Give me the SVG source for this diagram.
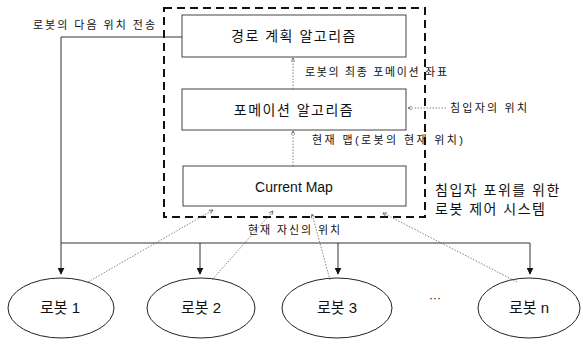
<svg xmlns="http://www.w3.org/2000/svg" width="583" height="345" viewBox="0 0 583 345">
<defs>
<style>
text{font-family:"Liberation Sans","Noto Sans CJK KR",sans-serif;fill:#111}
.box{fill:#fff;stroke:#444;stroke-width:1}
.title{font-size:14px;text-anchor:middle}
.lbl{font-size:11px}
.robot{fill:#fff;stroke:#222;stroke-width:1}
.rt{font-size:15px;text-anchor:middle}
.solid{fill:none;stroke:#333;stroke-width:1}
.dot{fill:none;stroke:#666;stroke-width:0.8;stroke-dasharray:1.5 1.5}
</style>
<marker id="fill" viewBox="0 0 10 10" refX="9" refY="5" markerWidth="7" markerHeight="7" orient="auto"><path d="M0,0 L10,5 L0,10 z" fill="#111"/></marker>
<marker id="open" viewBox="0 0 10 10" refX="9" refY="5" markerWidth="6" markerHeight="6" orient="auto"><path d="M1,1 L9,5 L1,9" fill="none" stroke="#333" stroke-width="1.3"/></marker>
</defs>
<rect x="0" y="0" width="583" height="345" fill="#fff"/>

<g id="system">
<rect x="164" y="8" width="261" height="209" fill="none" stroke="#111" stroke-width="2" stroke-dasharray="8 5"/>
<text x="435" y="195" style="font-size:14px;letter-spacing:1.5px">침입자 포위를 위한</text>
<text x="435" y="214" style="font-size:14px;letter-spacing:1.5px">로봇 제어 시스템</text>
</g>

<g id="path-planning">
<rect class="box" x="182" y="15" width="224" height="42"/>
<text class="title" x="294" y="41" style="letter-spacing:1.5px">경로 계획 알고리즘</text>
</g>
<g id="formation">
<rect class="box" x="182" y="89" width="224" height="41"/>
<text class="title" x="294" y="115" style="letter-spacing:1.5px">포메이션 알고리즘</text>
</g>
<g id="current-map">
<rect class="box" x="183" y="166" width="223" height="40"/>
<text class="title" x="294" y="192">Current Map</text>
</g>

<g id="robot1"><ellipse class="robot" cx="61" cy="308" rx="53" ry="30"/><text class="rt" x="60" y="313">로봇 1</text></g>
<g id="robot2"><ellipse class="robot" cx="201" cy="308" rx="54" ry="30"/><text class="rt" x="201" y="313">로봇 2</text></g>
<g id="robot3"><ellipse class="robot" cx="337" cy="308" rx="55" ry="30"/><text class="rt" x="337" y="313">로봇 3</text></g>
<g id="robotn"><ellipse class="robot" cx="529" cy="308" rx="51" ry="30"/><text class="rt" x="529" y="313">로봇 n</text></g>
<text x="435" y="302" style="font-size:12px;text-anchor:middle">···</text>

<g id="connectors">
<!-- next position broadcast -->
<path class="solid" d="M182,37 H61 V274" marker-end="url(#fill)"/>
<path class="solid" d="M61,243 H530"/>
<path class="solid" d="M200,243 V274" marker-end="url(#fill)"/>
<path class="solid" d="M338,243 V274" marker-end="url(#fill)"/>
<path class="solid" d="M530,243 V274" marker-end="url(#fill)"/>
<text class="lbl" x="33" y="29" textLength="122">로봇의 다음 위치 전송</text>

<!-- between boxes -->
<path class="dot" d="M293,89 V58" marker-end="url(#open)"/>
<text class="lbl" x="305" y="76" textLength="142">로봇의 최종 포메이션 좌표</text>
<path class="dot" d="M293,166 V131" marker-end="url(#open)"/>
<text class="lbl" x="312" y="144" textLength="151">현재 맵(로봇의 현재 위치)</text>

<!-- intruder position -->
<path class="dot" d="M446,108 H408" marker-end="url(#open)"/>
<text class="lbl" x="450" y="112" textLength="77">침입자의 위치</text>

<!-- robot current positions -->
<path class="dot" d="M88,282 L213,210" marker-end="url(#open)"/>
<path class="dot" d="M212,280 L273,211" marker-end="url(#open)"/>
<path class="dot" d="M330,280 L312,214" marker-end="url(#open)"/>
<path class="dot" d="M517,282 L383,213" marker-end="url(#open)"/>
<text class="lbl" x="248" y="234" textLength="92">현재 자신의 위치</text>
</g>
</svg>
